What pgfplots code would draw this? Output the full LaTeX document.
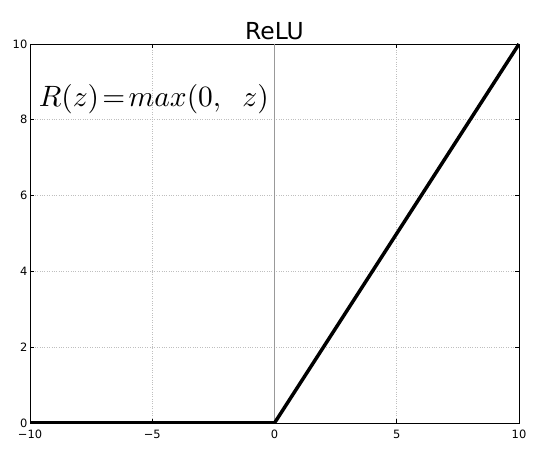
\documentclass[border=0pt]{standalone}
\usepackage{pgfplots}
\pgfplotsset{compat=1.18}
\usepackage{fontspec}
\setmainfont{DejaVu Sans}

\begin{document}
\begin{tikzpicture}
    \begin{axis}[
        name=ax,
        at={(0,0)}, anchor=south west,
        scale only axis,
        width=489bp,
        height=379bp,
        xmin=-10, xmax=10,
        ymin=0, ymax=10,
        xtick={-10,-5,0,5,10},
        xticklabels={−10,−5,0,5,10},
        ytick={0,2,4,6,8,10},
        yticklabels={0,2,4,6,8,10},
        tick align=inside,
        major tick length=4bp,
        tick style={black, line width=0.6bp},
        axis line style={black, line width=0.8bp},
        ticklabel style={font=\fontsize{11.5}{12}\selectfont, inner sep=0.5bp},
        xticklabel style={yshift=-6bp},
        yticklabel style={xshift=-2bp},
        grid=major,
        major grid style={gray!50, dotted, line width=0.7bp},
        title={ReLU},
        title style={font=\fontsize{23.5}{24}\selectfont, yshift=-5bp},
    ]
        \draw[gray!80, line width=0.6bp] (axis cs:0,0) -- (axis cs:0,10);
        \addplot[black, line width=3.5bp, line join=round] coordinates {
            (-10, 0)
            (0, 0)
            (10, 10)
        };
        \node[anchor=west, inner sep=0pt] at (axis cs:-9.65,8.55)
            {\resizebox{230bp}{!}{$R(z)\!=\!max(0,\;\; z)$}};
    \end{axis}
    \path (ax.south west) ++(-30bp,-34bp) rectangle ++(550bp,457bp);
\end{tikzpicture}
\end{document}
